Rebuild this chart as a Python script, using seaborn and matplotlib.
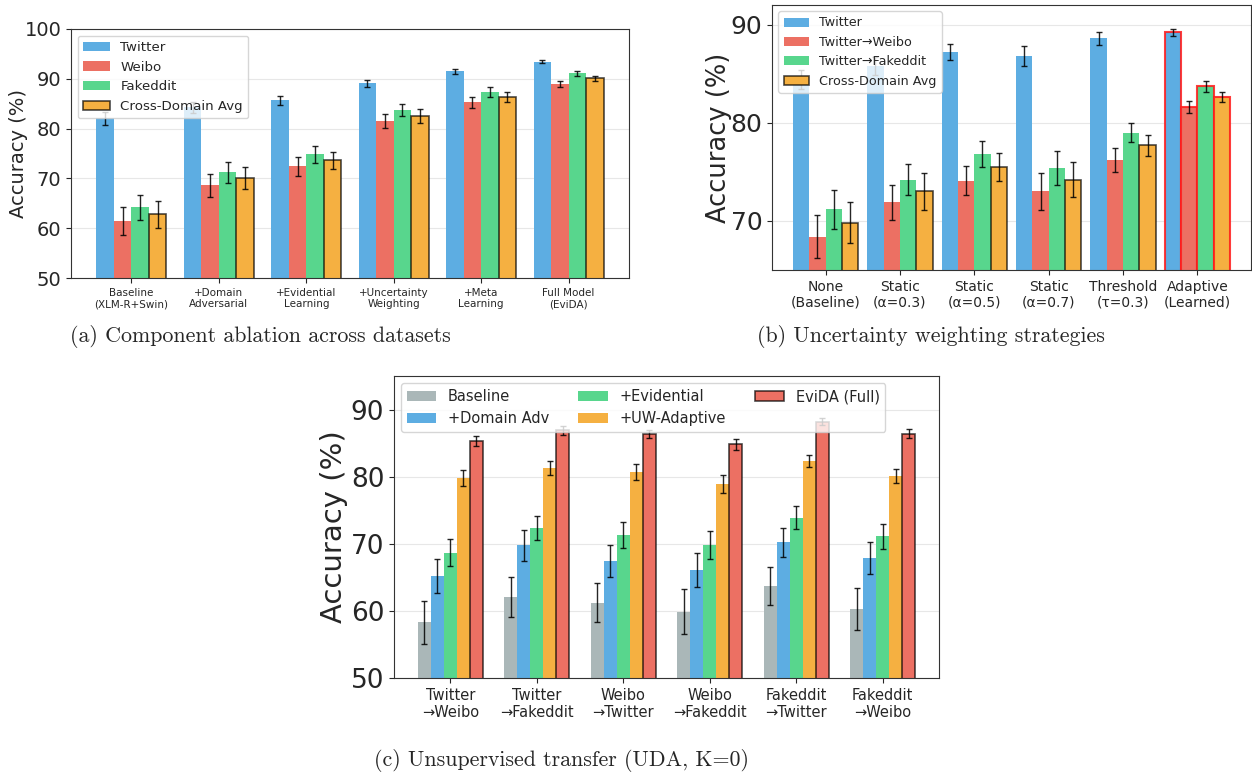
import numpy as np
import pandas as pd
import seaborn as sns
import matplotlib
matplotlib.use("Agg")
from matplotlib import pyplot as plt
from matplotlib.patches import Patch
from matplotlib.container import BarContainer

sns.set_style("ticks")
plt.rcParams['font.family'] = ['DejaVu Sans']
plt.rcParams['xtick.major.size'] = 3.5
plt.rcParams['ytick.major.size'] = 3.5

# ---- (a) component ablation ----
a_groups = ['Baseline\n(XLM-R+Swin)', '+Domain\nAdversarial', '+Evidential\nLearning',
            '+Uncertainty\nWeighting', '+Meta\nLearning', 'Full Model\n(EviDA)']
a_series = ['Twitter', 'Weibo', 'Fakeddit', 'Cross-Domain Avg']
a_twitter = [82.1, 84.3, 85.7, 89.1, 91.5, 93.4]
a_weibo = [61.4, 68.6, 72.4, 81.5, 85.3, 88.9]
a_fakeddit = [64.2, 71.2, 74.8, 83.7, 87.3, 91.1]
a_avg = [62.8, 70.0, 73.6, 82.6, 86.4, 90.1]
a_twitter_err = [1.3, 1.1, 0.9, 0.7, 0.5, 0.3]
a_weibo_err = [2.8, 2.3, 1.9, 1.4, 1.1, 0.6]
a_fakeddit_err = [2.5, 2.1, 1.8, 1.2, 1.0, 0.5]
a_avg_err = [2.7, 2.2, 1.8, 1.4, 1.0, 0.5]

# ---- (b) uncertainty weighting strategies ----
b_groups = ['None\n(Baseline)', 'Static\n(α=0.3)', 'Static\n(α=0.5)', 'Static\n(α=0.7)',
            'Threshold\n(τ=0.3)', 'Adaptive\n(Learned)']
b_series = ['Twitter', 'Twitter→Weibo', 'Twitter→Fakeddit', 'Cross-Domain Avg']
b_twitter = [84.4, 85.8, 87.2, 86.8, 88.6, 89.2]
b_weibo = [68.4, 71.9, 74.1, 73.0, 76.2, 81.6]
b_fakeddit = [71.2, 74.2, 76.8, 75.4, 79.0, 83.7]
b_avg = [69.8, 73.0, 75.5, 74.2, 77.7, 82.6]
b_twitter_err = [1.0, 0.9, 0.8, 1.0, 0.7, 0.4]
b_weibo_err = [2.2, 1.8, 1.5, 1.9, 1.2, 0.6]
b_fakeddit_err = [2.0, 1.6, 1.35, 1.7, 1.0, 0.55]
b_avg_err = [2.1, 1.9, 1.4, 1.8, 1.1, 0.5]

# ---- (c) unsupervised transfer ----
c_groups = ['Twitter\n→Weibo', 'Twitter\n→Fakeddit', 'Weibo\n→Twitter',
            'Weibo\n→Fakeddit', 'Fakeddit\n→Twitter', 'Fakeddit\n→Weibo']
c_series = ['Baseline', '+Domain Adv', '+Evidential', '+UW-Adaptive', 'EviDA (Full)']
c_baseline = [58.3, 62.1, 61.2, 59.9, 63.7, 60.3]
c_domadv = [65.2, 69.8, 67.4, 66.1, 70.2, 67.9]
c_evid = [68.7, 72.3, 71.3, 69.8, 73.9, 71.1]
c_uw = [79.8, 81.3, 80.7, 78.9, 82.4, 80.1]
c_full = [85.3, 86.9, 86.3, 84.8, 88.2, 86.4]
c_baseline_err = [3.2, 3.0, 2.9, 3.3, 2.8, 3.1]
c_domadv_err = [2.5, 2.3, 2.35, 2.6, 2.2, 2.4]
c_evid_err = [2.0, 1.8, 1.9, 2.1, 1.7, 1.9]
c_uw_err = [1.25, 1.0, 1.15, 1.3, 0.9, 1.1]
c_full_err = [0.75, 0.65, 0.6, 0.8, 0.5, 0.7]

BLUE, RED, GREEN, ORANGE, GRAY = '#5DADE2', '#EC7063', '#58D68D', '#F5B041', '#AAB7B8'


def long_df(groups, series, values):
    rows = []
    for s, vals in zip(series, values):
        for g, v in zip(groups, vals):
            rows.append({'group': g, 'series': s, 'acc': v})
    return pd.DataFrame(rows)


def draw(ax, groups, series, values, errs, colors, width, edged, xlim, ylim):
    df = long_df(groups, series, values)
    sns.barplot(data=df, x='group', y='acc', hue='series', order=groups,
                hue_order=series, palette=colors, width=width, saturation=1,
                errorbar=None, legend=False, ax=ax, linewidth=0)
    bars = [c for c in ax.containers if isinstance(c, BarContainer)]
    for si, cont in enumerate(bars):
        for p in cont.patches:
            cx = p.get_x() + p.get_width() / 2
            gi = int(round(cx))
            if series[si] in edged:
                p.set_edgecolor((0, 0, 0, 0.7))
                p.set_linewidth(1.2)
            ax.errorbar(cx, values[si][gi], yerr=errs[si][gi], fmt='none',
                        ecolor='black', elinewidth=1, capsize=2, capthick=1,
                        alpha=0.85, zorder=3)
    ax.set_xlim(*xlim)
    ax.set_ylim(*ylim)
    ax.set_xlabel('')
    ax.yaxis.grid(True, color='#b0b0b0', alpha=0.3, linewidth=0.8)
    ax.set_axisbelow(True)
    for sp in ax.spines.values():
        sp.set_visible(True)
        sp.set_color('#333333')
    return bars


def legend(ax, series, colors, edged, fs, ncol=1):
    handles = []
    for s, c in zip(series, colors):
        if s in edged:
            handles.append(Patch(facecolor=c, edgecolor=(0, 0, 0, 0.7), linewidth=1.2, label=s))
        else:
            handles.append(Patch(facecolor=c, edgecolor='none', label=s))
    ax.legend(handles=handles, loc='upper left', fontsize=fs, ncol=ncol,
              frameon=True, framealpha=0.8, edgecolor='#cccccc', fancybox=True)


fig = plt.figure(figsize=(12.52, 7.73), dpi=100)

# (a)
ax1 = fig.add_axes([71 / 1252, 1 - 278 / 773, 558 / 1252, 249 / 773])
draw(ax1, a_groups, a_series, [a_twitter, a_weibo, a_fakeddit, a_avg],
     [a_twitter_err, a_weibo_err, a_fakeddit_err, a_avg_err],
     [BLUE, RED, GREEN, ORANGE], 0.8, ['Cross-Domain Avg'], (-0.69, 5.69), (50, 100))
ax1.set_yticks([50, 60, 70, 80, 90, 100])
ax1.tick_params(axis='y', labelsize=14)
ax1.tick_params(axis='x', labelsize=7.5)
ax1.set_ylabel('Accuracy (%)', fontsize=14)
ax1.yaxis.set_label_coords(-0.077, 0.5)
legend(ax1, a_series, [BLUE, RED, GREEN, ORANGE], ['Cross-Domain Avg'], 9.6)

# (b)
ax2 = fig.add_axes([772 / 1252, 1 - 270 / 773, 479 / 1252, 265 / 773])
bars2 = draw(ax2, b_groups, b_series, [b_twitter, b_weibo, b_fakeddit, b_avg],
             [b_twitter_err, b_weibo_err, b_fakeddit_err, b_avg_err],
             [BLUE, RED, GREEN, ORANGE], 0.88, ['Cross-Domain Avg'], (-0.72, 5.72), (65, 92))
# highlight the adaptive strategy
for cont in bars2:
    for p in cont.patches:
        if int(round(p.get_x() + p.get_width() / 2)) == 5:
            p.set_edgecolor((1, 0.1, 0.1, 0.85))
            p.set_linewidth(1.5)
ax2.set_yticks([70, 80, 90])
ax2.tick_params(axis='y', labelsize=18)
ax2.tick_params(axis='x', labelsize=10)
ax2.set_ylabel('Accuracy (%)', fontsize=18.5)
ax2.yaxis.set_label_coords(-0.0835, 0.5)
legend(ax2, b_series, [BLUE, RED, GREEN, ORANGE], ['Cross-Domain Avg'], 9.2)

# (c)
ax3 = fig.add_axes([394 / 1252, 1 - 678 / 773, 545 / 1252, 302 / 773])
draw(ax3, c_groups, c_series, [c_baseline, c_domadv, c_evid, c_uw, c_full],
     [c_baseline_err, c_domadv_err, c_evid_err, c_uw_err, c_full_err],
     [GRAY, BLUE, GREEN, ORANGE, RED], 0.75, ['EviDA (Full)'], (-0.65, 5.65), (50, 95))
ax3.set_yticks([50, 60, 70, 80, 90])
ax3.tick_params(axis='y', labelsize=19)
ax3.tick_params(axis='x', labelsize=10.5)
ax3.set_ylabel('Accuracy (%)', fontsize=21)
ax3.yaxis.set_label_coords(-0.084, 0.5)
legend(ax3, c_series, [GRAY, BLUE, GREEN, ORANGE, RED], ['EviDA (Full)'], 10.5, ncol=3)

cap = dict(fontsize=15.8, family=['cmr10', 'DejaVu Serif'], ha='center', va='center')
fig.text(260 / 1252, 1 - 337 / 773, '(a) Component ablation across datasets', **cap)
fig.text(931 / 1252, 1 - 337 / 773, '(b) Uncertainty weighting strategies', **cap)
fig.text(561 / 1252, 1 - 760 / 773, '(c) Unsupervised transfer (UDA, K=0)', **cap)

fig.savefig('out.png', dpi=100)
